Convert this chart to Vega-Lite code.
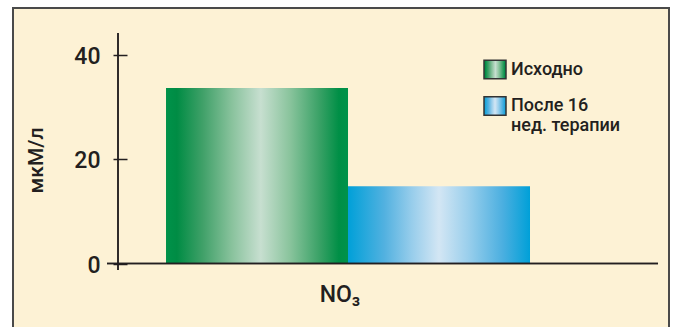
{
  "$schema": "https://vega.github.io/schema/vega-lite/v6.json",
  "width": 656,
  "height": 320,
  "autosize": {"type": "none"},
  "padding": {"left": 13, "top": 8, "right": 6, "bottom": -1},
  "background": "white",
  "view": {"fill": "#fdf2d5", "stroke": "#4a4a4a", "strokeWidth": 2},
  "config": {
    "font": "Roboto",
    "axis": {"labelColor": "#231f20", "titleColor": "#231f20", "labelFont": "Roboto", "titleFont": "Roboto", "labelFontWeight": 500, "titleFontWeight": 500},
    "legend": {
      "title": null,
      "orient": "none",
      "padding": 0,
      "symbolType": "M-1,-0.85H1V0.85H-1Z",
      "symbolSize": 484,
      "symbolStrokeWidth": 1.5,
      "labelFont": "Roboto",
      "labelFontWeight": 500,
      "labelFontSize": 18,
      "labelColor": "#231f20",
      "labelOffset": 4,
      "labelLimit": 0,
      "labelBaseline": "middle"
    }
  },
  "data": {
    "values": [
      {"ion": "NO₃", "series": "Исходно", "value": 33.6},
      {"ion": "NO₃", "series": "После 16 нед. терапии", "value": 14.8}
    ]
  },
  "layer": [
    {
      "transform": [{"filter": "datum.series === 'Исходно'"}],
      "mark": {
        "type": "bar",
        "strokeWidth": 0,
        "fill": {"gradient": "linear", "x1": 0, "y1": 0, "x2": 1, "y2": 0, "stops": [
          {"offset": 0, "color": "#00924a"},
          {"offset": 0.06, "color": "#008c44"},
          {"offset": 0.2, "color": "#3fa068"},
          {"offset": 0.36, "color": "#88c29c"},
          {"offset": 0.52, "color": "#c7dfd0"},
          {"offset": 0.68, "color": "#8ac49d"},
          {"offset": 0.85, "color": "#36a064"},
          {"offset": 0.95, "color": "#008f46"},
          {"offset": 1, "color": "#00924a"}
        ]}
      },
      "encoding": {
        "x": {
          "field": "ion",
          "type": "nominal",
          "scale": {"paddingInner": 0, "paddingOuter": 0.4011, "align": 0.524},
          "axis": {
            "title": null,
            "orient": "bottom",
            "offset": -64.5,
            "domain": false,
            "ticks": false,
            "tickSize": 0,
            "labelAngle": 0,
            "labelFontSize": 23,
            "labelPadding": 19.5,
            "labelOffset": -8
          }
        },
        "xOffset": {"field": "series", "type": "nominal", "scale": {"paddingInner": 0, "paddingOuter": 0}},
        "y": {
          "field": "value",
          "type": "quantitative",
          "scale": {"domain": [-12.344, 48.9], "nice": false, "zero": false},
          "axis": {
            "title": "мкМ/л",
            "orient": "left",
            "offset": -114,
            "values": [0, 20, 40],
            "grid": false,
            "domain": false,
            "tickSize": 14,
            "tickWidth": 1.5,
            "tickColor": "#231f20",
            "labelFontSize": 23,
            "labelPadding": 13,
            "labelBaseline": "middle",
            "labelOffset": 1.5,
            "titleFontSize": 21,
            "titleAngle": 270,
            "titleX": -91,
            "titleY": 152,
            "titleAlign": "center",
            "titleBaseline": "middle"
          }
        },
        "y2": {"datum": 0},
        "stroke": {
          "field": "series",
          "type": "nominal",
          "scale": {"range": ["#333333"]},
          "legend": {"legendX": 470, "legendY": 49.5}
        }
      }
    },
    {
      "transform": [{"filter": "datum.series !== 'Исходно'"}],
      "mark": {
        "type": "bar",
        "strokeWidth": 0,
        "fill": {"gradient": "linear", "x1": 0, "y1": 0, "x2": 1, "y2": 0, "stops": [
          {"offset": 0, "color": "#00a0d8"},
          {"offset": 0.2, "color": "#52b1e0"},
          {"offset": 0.35, "color": "#97cdeb"},
          {"offset": 0.5, "color": "#d3e6f4"},
          {"offset": 0.66, "color": "#9acfec"},
          {"offset": 0.85, "color": "#4bafe0"},
          {"offset": 1, "color": "#00a0d8"}
        ]}
      },
      "encoding": {
        "x": {"field": "ion", "type": "nominal"},
        "xOffset": {"field": "series", "type": "nominal"},
        "y": {"field": "value", "type": "quantitative"},
        "y2": {"datum": 0},
        "stroke": {
          "field": "series",
          "type": "nominal",
          "scale": {"range": ["#333333"]},
          "legend": {
            "legendX": 470,
            "legendY": 86,
            "labelExpr": "datum.label == 'После 16 нед. терапии' ? ['После 16', 'нед. терапии'] : datum.label"
          }
        }
      }
    },
    {
      "mark": {"type": "rule", "color": "#231f20", "strokeWidth": 1.5},
      "encoding": {
        "x": {"datum": "NO₃", "type": "nominal", "bandPosition": -0.13187},
        "y": {"datum": -1.24, "type": "quantitative"},
        "y2": {"datum": 44.1}
      }
    },
    {
      "mark": {"type": "rule", "color": "#231f20", "strokeWidth": 1.5},
      "encoding": {
        "x": {"datum": "NO₃", "type": "nominal", "bandPosition": -0.16209},
        "x2": {"datum": "NO₃", "bandPosition": 1.35165},
        "y": {"datum": 0, "type": "quantitative"}
      }
    }
  ],
  "resolve": {"scale": {"stroke": "independent"}, "legend": {"stroke": "independent"}}
}
